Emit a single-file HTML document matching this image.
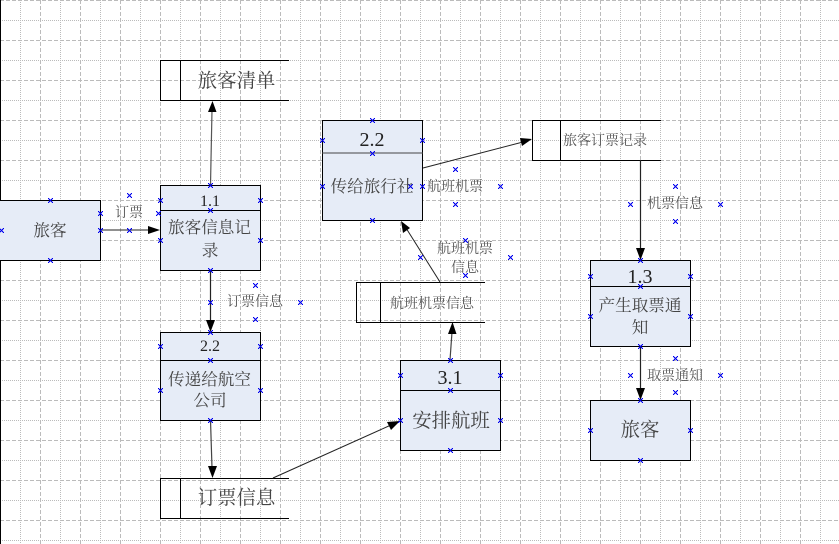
<!DOCTYPE html>
<html><head><meta charset="utf-8"><style>
html,body{margin:0;padding:0;background:#fff}
svg{display:block}
text{font-family:"Liberation Serif","Noto Serif CJK SC",serif;fill:#444;text-anchor:middle}
.n{fill:#222}
.l{font-size:14px;fill:#555}
.t{font-size:16.6px}
.b{font-size:19.4px}
</style></head><body>
<svg width="839" height="544" viewBox="0 0 839 544" xmlns="http://www.w3.org/2000/svg" shape-rendering="crispEdges">
<!-- minor grid -->
<path stroke="#bbb" fill="none" stroke-dasharray="1 1" d="M20.5 0V544M60.5 0V544M100.5 0V544M140.5 0V544M180.5 0V544M220.5 0V544M260.5 0V544M300.5 0V544M340.5 0V544M380.5 0V544M420.5 0V544M460.5 0V544M500.5 0V544M540.5 0V544M580.5 0V544M620.5 0V544M660.5 0V544M700.5 0V544M740.5 0V544M780.5 0V544M820.5 0V544M0 20.5H839M0 60.5H839M0 100.5H839M0 140.5H839M0 180.5H839M0 220.5H839M0 260.5H839M0 300.5H839M0 340.5H839M0 380.5H839M0 420.5H839M0 460.5H839M0 500.5H839M0 540.5H839"/>
<!-- major grid -->
<path stroke="#bbb" fill="none" stroke-dasharray="4 2" d="M40.5 0V544M80.5 0V544M120.5 0V544M160.5 0V544M200.5 0V544M240.5 0V544M280.5 0V544M320.5 0V544M360.5 0V544M400.5 0V544M440.5 0V544M480.5 0V544M520.5 0V544M560.5 0V544M600.5 0V544M640.5 0V544M680.5 0V544M720.5 0V544M760.5 0V544M800.5 0V544M0 .5H839M0 40.5H839M0 80.5H839M0 120.5H839M0 160.5H839M0 200.5H839M0 240.5H839M0 280.5H839M0 320.5H839M0 360.5H839M0 400.5H839M0 440.5H839M0 480.5H839M0 520.5H839"/>
<rect x="0" y="0" width="1" height="544" fill="#000"/>

<!-- process boxes -->
<g fill="#e6ecf7" stroke="#000">
<rect x="-1.5" y="200.5" width="102" height="60"/>
<rect x="160.5" y="185.5" width="100" height="85"/>
<rect x="160.5" y="332.5" width="100" height="88"/>
<rect x="322.5" y="120.5" width="100" height="100"/>
<rect x="400.5" y="360.5" width="100" height="90"/>
<rect x="590.5" y="260.5" width="100" height="86"/>
<rect x="590.5" y="400.5" width="100" height="60"/>
</g>
<path stroke="#000" fill="none" d="M160 210.5H261M160 360.5H261M400 390.5H501M590 286.5H691"/>
<path stroke="#444" fill="none" d="M322 153H423"/>

<!-- data stores -->
<path stroke="#000" fill="none" d="M289 60.5H160.5V100.5H289M180.5 60V100
M289 478.5H160.5V518.5H289M180.5 478V518
M485 282.5H356.5V322.5H485M380.5 282V322
M661 120.5H532.5V160.5H661M560.5 120V160"/>

<!-- connectors -->
<g stroke="#222" fill="none" shape-rendering="geometricPrecision">
<path d="M100 230H150"/>
<path d="M210.500 185L212 110" stroke="#555" stroke-width="1.2"/>
<path d="M210.500 270V322" stroke-width="1.2"/>
<path d="M210.500 420L212 468" stroke="#444" stroke-width="1.2"/>
<path d="M273 478L391 425"/>
<path d="M450 360L452 332" stroke="#444" stroke-width="1.200"/>
<path d="M440 282L406 228"/>
<path d="M423 168L523 142"/>
<path d="M640.500 160V250" stroke-width="1.2"/>
<path d="M640.500 346V390" stroke-width="1.2"/>
</g>
<!-- arrowheads -->
<g fill="#000" shape-rendering="geometricPrecision">
<polygon points="160,230 148,226 148,234"/>
<polygon points="212.500,101 208,112 216.500,112"/>
<polygon points="210.500,332 206,320 215,320"/>
<polygon points="212.500,478 208,466 217,466"/>
<polygon points="400,421 387,422 391,430"/>
<polygon points="452.500,322 448,334 456.500,334"/>
<polygon points="401,221 403,233 410,228"/>
<polygon points="532,139 520,138 522,146"/>
<polygon points="640.500,260 636,248 645,248"/>
<polygon points="640.500,400 636,388 645,388"/>
</g>

<!-- connection marks -->
<path stroke="#00e" fill="none" stroke-width="1" stroke-linecap="square" transform="translate(.5 .5)" d="
M48 198l4 4m-4 0l4-4M98 211l4 4m-4 0l4-4M98 228l4 4m-4 0l4-4M-1 228l4 4m-4 0l4-4M48 258l4 4m-4 0l4-4
M127 193l4 4m-4 0l4-4M127 228l4 4m-4 0l4-4M156 211l4 4m-4 0l4-4
M208 183l4 4m-4 0l4-4M158 198l4 4m-4 0l4-4M258 198l4 4m-4 0l4-4M208 208l4 4m-4 0l4-4M158 238l4 4m-4 0l4-4M258 238l4 4m-4 0l4-4M208 268l4 4m-4 0l4-4
M253 283l4 4m-4 0l4-4M253 317l4 4m-4 0l4-4M298 300l4 4m-4 0l4-4M208 300l4 4m-4 0l4-4
M208 330l4 4m-4 0l4-4M158 344l4 4m-4 0l4-4M258 344l4 4m-4 0l4-4M208 358l4 4m-4 0l4-4M158 388l4 4m-4 0l4-4M258 388l4 4m-4 0l4-4M208 418l4 4m-4 0l4-4
M370 118l4 4m-4 0l4-4M320 138l4 4m-4 0l4-4M420 138l4 4m-4 0l4-4M370 151l4 4m-4 0l4-4M320 184l4 4m-4 0l4-4M420 184l4 4m-4 0l4-4M370 218l4 4m-4 0l4-4M408 184l4 4m-4 0l4-4
M453 167l4 4m-4 0l4-4M453 202l4 4m-4 0l4-4M498 184l4 4m-4 0l4-4
M463 238l4 4m-4 0l4-4M463 273l4 4m-4 0l4-4M508 255l4 4m-4 0l4-4M418 255l4 4m-4 0l4-4
M448 358l4 4m-4 0l4-4M398 373l4 4m-4 0l4-4M498 373l4 4m-4 0l4-4M448 388l4 4m-4 0l4-4M398 418l4 4m-4 0l4-4M498 418l4 4m-4 0l4-4M448 448l4 4m-4 0l4-4
M673 184l4 4m-4 0l4-4M673 219l4 4m-4 0l4-4M718 202l4 4m-4 0l4-4M628 202l4 4m-4 0l4-4
M638 258l4 4m-4 0l4-4M588 274l4 4m-4 0l4-4M688 274l4 4m-4 0l4-4M638 284l4 4m-4 0l4-4M588 314l4 4m-4 0l4-4M688 314l4 4m-4 0l4-4M638 344l4 4m-4 0l4-4
M673 356l4 4m-4 0l4-4M673 390l4 4m-4 0l4-4M718 373l4 4m-4 0l4-4M628 373l4 4m-4 0l4-4
M638 398l4 4m-4 0l4-4M588 428l4 4m-4 0l4-4M688 428l4 4m-4 0l4-4M638 458l4 4m-4 0l4-4"/>

<!-- labels -->
<text class="t" x="50" y="236">旅客</text>
<text class="b" x="236.500" y="87">旅客清单</text>
<text class="n" x="210" y="206" font-size="16">1.1</text>
<text class="t" x="209.500" y="233">旅客信息记</text>
<text class="t" x="210" y="256">录</text>
<text class="l" x="129" y="217">订票</text>
<text class="l" x="255" y="306">订票信息</text>
<text class="n" x="210" y="351" font-size="16">2.2</text>
<text class="t" x="209.500" y="385">传递给航空</text>
<text class="t" x="210" y="406">公司</text>
<text class="b" x="236.500" y="504">订票信息</text>
<text class="n" x="372" y="146" font-size="20">2.2</text>
<text class="t" x="372" y="192">传给旅行社</text>
<text class="l" x="455" y="191">航班机票</text>
<text class="l" x="465" y="253">航班机票</text>
<text class="l" x="465" y="272">信息</text>
<text class="l" x="432" y="308">航班机票信息</text>
<text class="n" x="450" y="384" font-size="20">3.1</text>
<text class="b" x="451" y="427">安排航班</text>
<text class="l" x="605" y="145">旅客订票记录</text>
<text class="l" x="675" y="208">机票信息</text>
<text class="n" x="640" y="283" font-size="20">1.3</text>
<text class="t" x="640" y="311">产生取票通</text>
<text class="t" x="640" y="333">知</text>
<text class="l" x="675" y="380">取票通知</text>
<text class="b" x="640" y="436">旅客</text>
</svg>
</body></html>
